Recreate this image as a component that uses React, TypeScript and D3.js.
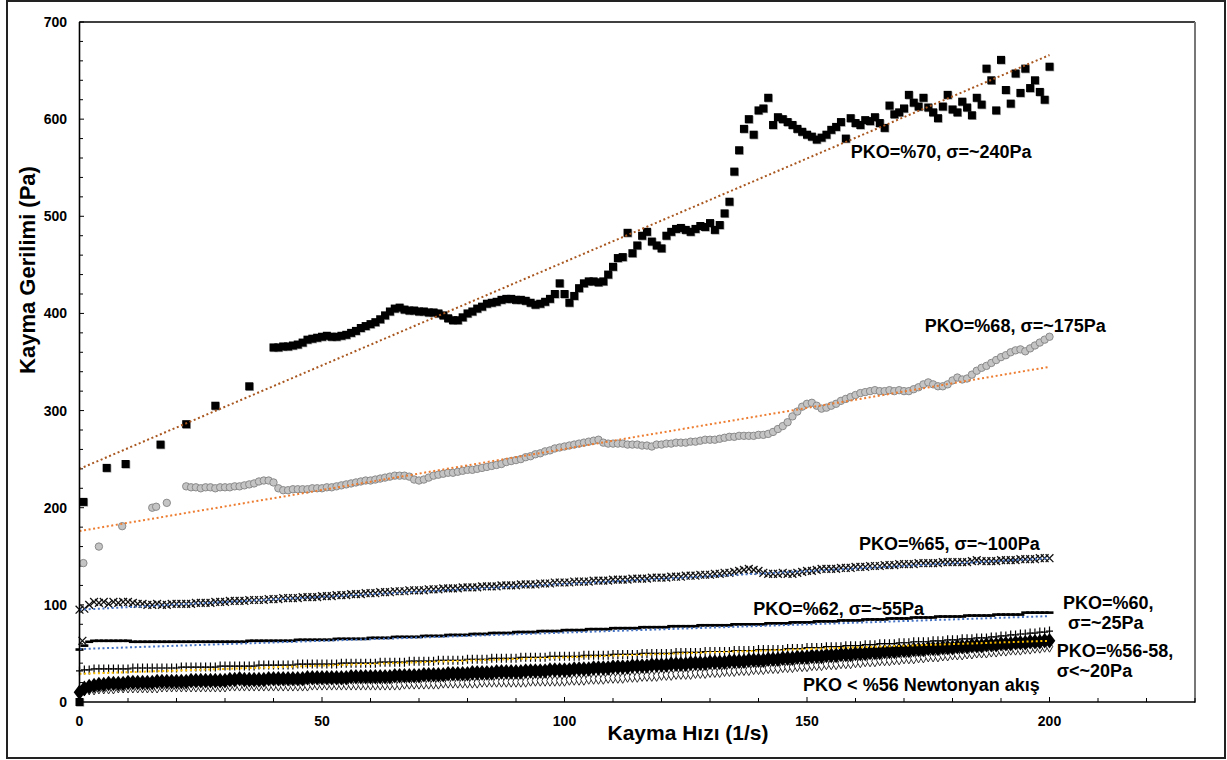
import * as d3 from 'd3';

// Kayma hızı (1/s) – kayma gerilimi (Pa) ölçümleri

// PKO=%70 – seyrek başlangıç noktaları [x, y]
const pko70Sparse: [number, number][] = [
  [0, 0], [0.8, 206], [5.6, 241], [9.5, 245], [16.7, 265], [22, 286], [28, 305], [35, 325],
];
// PKO=%70 – x = 40..200 (1/s adımlı)
const pko70Start = 40;
const pko70Values = [
  365, 365, 366, 366, 367, 368, 370, 373, 374, 375,
  376, 377, 376, 376, 377, 378, 380, 382, 385, 387,
  389, 391, 394, 398, 402, 405, 406, 404, 403, 403,
  402, 402, 401, 401, 400, 398, 395, 393, 393, 396,
  400, 402, 405, 407, 410, 411, 412, 414, 415, 415,
  414, 414, 413, 411, 409, 410, 412, 415, 420, 431,
  420, 411, 418, 426, 431, 433, 433, 432, 433, 440,
  448, 457, 458, 483, 462, 470, 480, 484, 474, 470,
  467, 480, 484, 487, 488, 486, 484, 487, 490, 489,
  493, 486, 491, 503, 515, 546, 568, 590, 600, 584,
  609, 611, 622, 594, 602, 600, 597, 594, 590, 587,
  584, 582, 579, 581, 584, 589, 592, 597, 580, 601,
  596, 594, 599, 598, 602, 596, 591, 614, 605, 607,
  611, 625, 617, 613, 622, 612, 607, 601, 613, 625,
  610, 607, 618, 612, 604, 622, 615, 652, 640, 609,
  661, 630, 616, 647, 627, 652, 632, 640, 628, 620,
  654,
];

// PKO=%68 – seyrek başlangıç noktaları
const pko68Sparse: [number, number][] = [
  [0.8, 143], [4, 160], [8.8, 181], [15, 200], [15.8, 201], [18, 205],
];
// PKO=%68 – x = 22..200
const pko68Start = 22;
const pko68Values = [
  222, 221, 221, 220, 221, 221, 220, 221, 221, 221,
  222, 222, 223, 224, 225, 227, 228, 228, 226, 220,
  218, 218, 219, 219, 219, 219, 220, 220, 220, 221,
  221, 222, 223, 224, 225, 226, 227, 228, 228, 229,
  230, 231, 232, 233, 233, 233, 232, 229, 228, 229,
  231, 233, 234, 235, 236, 236, 237, 238, 239, 239,
  240, 241, 242, 243, 244, 245, 247, 248, 249, 250,
  252, 253, 255, 256, 258, 259, 261, 262, 263, 264,
  265, 266, 267, 268, 269, 270, 267, 266, 266, 266,
  266, 265, 265, 265, 264, 264, 263, 265, 265, 266,
  266, 267, 267, 267, 268, 268, 269, 270, 270, 270,
  271, 272, 273, 273, 274, 274, 274, 274, 275, 275,
  276, 278, 281, 284, 288, 294, 299, 304, 307, 308,
  305, 302, 303, 305, 307, 310, 312, 314, 316, 318,
  319, 320, 321, 320, 320, 321, 320, 321, 320, 320,
  322, 324, 327, 329, 327, 325, 325, 327, 331, 334,
  332, 333, 337, 341, 344, 346, 349, 352, 355, 357,
  360, 362, 363, 361, 364, 367, 370, 373, 376,
];

// Alt seriler – x = 0..200
const pko65Values = [
  95, 96, 100, 103, 102, 103, 101, 103, 102, 103,
  103, 102, 101, 101, 100, 100, 101, 100, 100, 101,
  101, 101, 101, 101, 102, 102, 102, 102, 103, 103,
  103, 104, 104, 104, 104, 105, 105, 105, 105, 106,
  106, 106, 107, 107, 107, 107, 108, 108, 108, 108,
  109, 109, 109, 110, 110, 110, 111, 111, 111, 112,
  112, 112, 113, 113, 113, 114, 114, 114, 115, 115,
  115, 115, 116, 116, 116, 117, 117, 117, 117, 118,
  118, 118, 118, 119, 119, 119, 119, 120, 120, 120,
  120, 121, 121, 121, 121, 122, 122, 122, 123, 123,
  123, 123, 124, 124, 124, 124, 125, 125, 125, 125,
  126, 126, 126, 126, 127, 127, 127, 127, 128, 128,
  128, 128, 129, 129, 129, 130, 130, 130, 131, 131,
  131, 132, 132, 133, 133, 134, 135, 136, 137, 136,
  135, 133, 132, 132, 132, 133, 132, 132, 133, 134,
  135, 135, 136, 137, 137, 137, 137, 138, 138, 138,
  139, 139, 139, 140, 140, 140, 141, 141, 141, 142,
  142, 142, 142, 143, 143, 143, 143, 143, 144, 144,
  144, 144, 144, 144, 145, 146, 145, 145, 145, 145,
  146, 146, 146, 146, 147, 147, 147, 147, 148, 148,
  148,
];
const pko65Extra: [number, number][] = [[0.6, 63]];

const pko62Values = [
  54, 58, 62, 63, 63, 63, 63, 63, 63, 63,
  63, 62, 62, 62, 62, 62, 62, 62, 62, 62,
  62, 62, 62, 62, 62, 62, 62, 62, 62, 62,
  62, 62, 62, 62, 62, 63, 63, 63, 63, 63,
  63, 63, 63, 63, 63, 64, 64, 64, 64, 64,
  64, 64, 64, 65, 65, 65, 65, 65, 65, 65,
  66, 66, 66, 66, 66, 67, 67, 67, 67, 67,
  67, 68, 68, 68, 68, 68, 69, 69, 69, 69,
  69, 70, 70, 70, 70, 71, 71, 71, 71, 71,
  72, 72, 72, 72, 72, 73, 73, 73, 73, 73,
  74, 74, 74, 74, 74, 75, 75, 75, 75, 75,
  76, 76, 76, 76, 76, 76, 77, 77, 77, 77,
  77, 77, 78, 78, 78, 78, 78, 78, 79, 79,
  79, 79, 79, 79, 79, 80, 80, 80, 80, 80,
  80, 80, 81, 81, 81, 81, 81, 82, 82, 82,
  82, 82, 83, 83, 83, 83, 83, 84, 84, 84,
  84, 84, 85, 85, 85, 85, 85, 86, 86, 86,
  86, 86, 87, 87, 87, 87, 87, 88, 88, 88,
  88, 88, 88, 89, 89, 89, 89, 89, 89, 90,
  90, 90, 90, 90, 90, 92, 92, 92, 92, 92,
  92,
];

const pko60Values = [
  32, 33, 33, 34, 34, 34, 34, 34, 34, 34,
  34, 35, 35, 35, 35, 35, 35, 35, 35, 35,
  35, 36, 36, 36, 36, 36, 36, 36, 36, 37,
  37, 37, 37, 37, 37, 37, 37, 38, 38, 38,
  38, 38, 38, 38, 38, 39, 39, 39, 39, 39,
  39, 39, 39, 39, 40, 40, 40, 40, 40, 40,
  40, 40, 41, 41, 41, 41, 41, 41, 42, 42,
  42, 42, 42, 42, 43, 43, 43, 43, 43, 43,
  44, 44, 44, 44, 44, 45, 45, 45, 45, 45,
  45, 46, 46, 46, 46, 46, 46, 47, 47, 47,
  47, 47, 47, 47, 48, 48, 48, 48, 48, 48,
  49, 49, 49, 49, 49, 49, 50, 50, 50, 50,
  50, 50, 50, 51, 51, 51, 51, 51, 51, 52,
  52, 52, 52, 52, 52, 53, 53, 53, 53, 53,
  54, 54, 54, 54, 54, 54, 55, 55, 55, 55,
  56, 56, 56, 56, 57, 57, 57, 57, 58, 58,
  58, 58, 59, 59, 59, 60, 60, 60, 60, 61,
  61, 61, 62, 62, 62, 62, 63, 63, 63, 64,
  64, 64, 65, 65, 65, 66, 66, 66, 67, 67,
  68, 68, 69, 69, 70, 70, 71, 71, 72, 72,
  73,
];

const pko58Values = [
  10, 14, 16, 17, 18, 18, 19, 19, 19, 19,
  20, 20, 20, 20, 20, 20, 21, 21, 21, 21,
  21, 21, 21, 22, 22, 22, 22, 22, 22, 22,
  22, 23, 23, 24, 23, 23, 23, 23, 23, 24,
  24, 24, 24, 24, 24, 24, 24, 25, 25, 25,
  25, 25, 25, 25, 25, 25, 26, 26, 26, 26,
  26, 26, 26, 26, 26, 27, 27, 27, 27, 27,
  27, 28, 28, 28, 28, 28, 29, 29, 29, 29,
  29, 30, 30, 30, 30, 30, 31, 31, 31, 31,
  31, 31, 32, 32, 32, 32, 32, 33, 33, 33,
  33, 33, 34, 34, 34, 34, 35, 35, 35, 35,
  36, 36, 36, 36, 37, 37, 37, 37, 38, 38,
  38, 38, 39, 39, 39, 39, 40, 40, 40, 40,
  41, 41, 41, 41, 42, 42, 42, 42, 43, 43,
  43, 43, 44, 44, 44, 45, 45, 45, 46, 46,
  46, 47, 47, 47, 48, 48, 48, 49, 49, 49,
  50, 50, 50, 51, 51, 51, 52, 52, 52, 53,
  53, 53, 54, 54, 54, 55, 55, 55, 56, 56,
  56, 57, 57, 57, 58, 58, 58, 59, 59, 59,
  60, 60, 60, 61, 61, 61, 62, 62, 62, 63,
  63,
];

const pko56Values = [
  11, 12, 13, 13, 14, 14, 14, 14, 15, 15,
  15, 15, 15, 15, 15, 15, 15, 16, 16, 16,
  16, 16, 16, 16, 16, 16, 16, 16, 16, 16,
  16, 17, 17, 17, 17, 17, 17, 17, 17, 17,
  17, 17, 17, 17, 17, 17, 17, 17, 18, 18,
  18, 18, 18, 18, 18, 18, 18, 18, 18, 18,
  18, 18, 18, 18, 18, 18, 18, 19, 19, 19,
  19, 19, 19, 19, 19, 20, 20, 20, 20, 20,
  20, 20, 20, 21, 21, 21, 21, 21, 21, 21,
  21, 21, 21, 22, 22, 22, 22, 22, 22, 22,
  22, 23, 23, 23, 23, 24, 24, 24, 24, 25,
  25, 25, 25, 26, 26, 26, 27, 27, 27, 27,
  28, 28, 28, 29, 29, 29, 29, 30, 30, 30,
  31, 31, 31, 32, 32, 32, 33, 33, 33, 34,
  34, 34, 35, 35, 35, 36, 36, 36, 37, 37,
  37, 38, 38, 38, 39, 39, 39, 40, 40, 40,
  41, 41, 42, 42, 42, 43, 43, 43, 44, 44,
  45, 45, 45, 46, 46, 47, 47, 47, 48, 48,
  49, 49, 49, 50, 50, 51, 51, 51, 52, 52,
  53, 53, 54, 54, 54, 55, 55, 56, 56, 57,
  57,
];

// Eğilim çizgileri (başlangıç, bitiş)
const trend70: [number, number][] = [[0, 240], [200, 666]];
const trend68: [number, number][] = [[0, 176], [200, 345]];
const trend65: [number, number][] = [[0, 95], [200, 148]];
const trend62: [number, number][] = [[0, 54.5], [200, 88.4]];
const trend60: [number, number][] = [[0, 29], [200, 63]];

const xTickValues = [0, 50, 100, 150, 200];
const yTickValues = [0, 100, 200, 300, 400, 500, 600, 700];

const annotations: { lines: string[]; x: number; y: number }[] = [
  { lines: ['PKO=%70, σ=~240Pa'], x: 159, y: 560 },
  { lines: ['PKO=%68, σ=~175Pa'], x: 174.3, y: 381 },
  { lines: ['PKO=%65, σ=~100Pa'], x: 160.7, y: 156.5 },
  { lines: ['PKO=%62, σ=~55Pa'], x: 138.9, y: 89.6 },
  { lines: ['PKO=%60,', ' σ=~25Pa'], x: 202.8, y: 95.7 },
  { lines: ['PKO=%56-58,', 'σ<~20Pa'], x: 201.5, y: 46.3 },
  { lines: ['PKO < %56 Newtonyan akış'], x: 149.2, y: 11.3 },
];

const W = 1227;
const H = 760;
const FONT = '"Liberation Sans", Arial, sans-serif';

const toPoints = (start: number, vals: number[]): [number, number][] =>
  vals.map((v, i) => [start + i, v]);

export default function App() {
  const x = d3.scaleLinear().domain([0, 230]).range([79.5, 1195]);
  const y = d3.scaleLinear().domain([0, 700]).range([702, 22]);

  const pts70 = [...pko70Sparse, ...toPoints(pko70Start, pko70Values)];
  const pts68 = [...pko68Sparse, ...toPoints(pko68Start, pko68Values)];
  const pts65 = [...pko65Extra, ...toPoints(0, pko65Values)];
  const pts62 = toPoints(0, pko62Values);
  const pts60 = toPoints(0, pko60Values);
  const pts58 = toPoints(0, pko58Values);
  const pts56 = toPoints(0, pko56Values);

  const line = d3.line<[number, number]>().x(d => x(d[0])).y(d => y(d[1]));
  const hollow = d3.symbol().type(d3.symbolDiamond).size(36)()!;
  const filled = d3.symbol().type(d3.symbolDiamond).size(70)()!;

  const xMinor = d3.range(0, 231, 10);
  const yMinor = d3.range(0, 701, 20);

  const trends: { pts: [number, number][]; color: string }[] = [
    { pts: trend70, color: '#a8561e' },
    { pts: trend68, color: '#ed7d31' },
    { pts: trend65, color: '#4472c4' },
    { pts: trend62, color: '#4472c4' },
    { pts: trend60, color: '#ffc000' },
  ];

  return (
    <svg width={W} height={H} style={{ position: 'absolute', left: 0, top: 0, background: '#fff' }}
      fontFamily={FONT}>
      <rect x={7} y={1} width={1218} height={757} fill="#fff" stroke="#222" strokeWidth={2} />

      {/* plot frame */}
      <line x1={x(0)} x2={1195} y1={22} y2={22} stroke="#000" strokeWidth={1.3} />
      <line x1={1195} x2={1195} y1={22} y2={703} stroke="#777" strokeWidth={2} />

      {/* minor + major ticks */}
      {xMinor.map(v => (
        <line key={'xm' + v} x1={x(v)} x2={x(v)} y1={702} y2={v % 50 === 0 ? 697 : 698}
          stroke="#000" strokeWidth={1} />
      ))}
      {yMinor.map(v => (
        <line key={'ym' + v} x1={79} x2={v % 100 === 0 ? 84 : 83} y1={y(v)} y2={y(v)}
          stroke="#000" strokeWidth={1} />
      ))}

      {/* hollow series (< %56) */}
      <g fill="#fff" stroke="#111" strokeWidth={0.9}>
        {pts56.map((d, i) => (
          <path key={'h' + i} d={hollow} transform={`translate(${x(d[0])},${y(d[1])})`} />
        ))}
      </g>
      {/* %56-58 filled */}
      <g fill="#000">
        {pts58.map((d, i) => (
          <path key={'f' + i} d={filled} transform={`translate(${x(d[0])},${y(d[1])}) scale(1.3,1)`} />
        ))}
      </g>
      {/* %60 plus */}
      <g stroke="#000" strokeWidth={1.2}>
        {pts60.map((d, i) => {
          const cx = x(d[0]);
          const cy = y(d[1]);
          return <path key={'p' + i} d={`M${cx - 3.5},${cy}H${cx + 3.5}M${cx},${cy - 4.5}V${cy + 4.5}`} />;
        })}
      </g>
      {/* %62 dash */}
      <g stroke="#000" strokeWidth={2.6}>
        {pts62.map((d, i) => {
          const cx = x(d[0]);
          const cy = y(d[1]);
          return <path key={'d' + i} d={`M${cx - 4},${cy}H${cx + 4}`} />;
        })}
      </g>
      {/* %65 cross */}
      <g stroke="#111" strokeWidth={1.3}>
        {pts65.map((d, i) => {
          const cx = x(d[0]);
          const cy = y(d[1]);
          const s = 3.9;
          return (
            <path key={'x' + i}
              d={`M${cx - s},${cy - s}L${cx + s},${cy + s}M${cx - s},${cy + s}L${cx + s},${cy - s}`} />
          );
        })}
      </g>
      {/* %68 circles */}
      <g fill="#c4c4c4" stroke="#8a8a8a" strokeWidth={1}>
        {pts68.map((d, i) => (
          <circle key={'c' + i} cx={x(d[0])} cy={y(d[1])} r={3.7} />
        ))}
      </g>
      {/* %70 squares */}
      <g>
        {pts70.map((d, i) => (
          <rect key={'ss' + i} x={x(d[0]) - 3.3} y={y(d[1]) - 3.3} width={8} height={8} fill="#9a9a9a" />
        ))}
        {pts70.map((d, i) => (
          <rect key={'s' + i} x={x(d[0]) - 4} y={y(d[1]) - 4} width={8} height={8} fill="#000" />
        ))}
      </g>

      {/* trend lines */}
      {trends.map((t, i) => (
        <path key={'t' + i} d={line(t.pts)!} fill="none" stroke={t.color} strokeWidth={2}
          strokeDasharray="2 2.6" />
      ))}

      {/* axes */}
      <line x1={79.5} x2={79.5} y1={22} y2={703} stroke="#000" strokeWidth={1.6} />
      <line x1={79} x2={1195} y1={702} y2={702} stroke="#000" strokeWidth={1.6} />

      {/* tick labels */}
      {xTickValues.map(v => (
        <text key={'xl' + v} x={x(v)} y={726} textAnchor="middle" fontSize={14} fontWeight="bold">{v}</text>
      ))}
      {yTickValues.map(v => (
        <text key={'yl' + v} x={67} y={y(v) + 5} textAnchor="end" fontSize={14} fontWeight="bold">{v}</text>
      ))}

      {/* axis titles */}
      <text x={688} y={740} textAnchor="middle" fontSize={21} fontWeight="bold">Kayma Hızı (1/s)</text>
      <text transform={`translate(35,${270}) rotate(-90)`} textAnchor="middle" fontSize={22}
        fontWeight="bold">Kayma Gerilimi (Pa)</text>

      {/* annotations */}
      {annotations.map((a, i) => (
        <text key={'a' + i} x={x(a.x)} y={y(a.y)} fontSize={18} fontWeight="bold">
          {a.lines.map((l, j) => (
            <tspan key={j} x={x(a.x)} dy={j === 0 ? 0 : 20} style={{ whiteSpace: 'pre' }}>{l}</tspan>
          ))}
        </text>
      ))}
    </svg>
  );
}
